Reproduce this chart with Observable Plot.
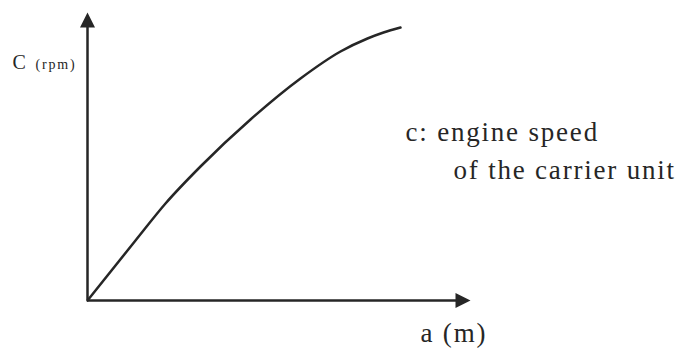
<!DOCTYPE html>
<html>
<head>
<meta charset="utf-8">
<script src="https://cdn.jsdelivr.net/npm/d3@7"></script>
<script src="https://cdn.jsdelivr.net/npm/@observablehq/plot@0.6"></script>
<style>
  html, body { margin: 0; padding: 0; background: #fff; }
  svg text { font-family: "Liberation Serif", "DejaVu Serif", serif !important; }
</style>
</head>
<body>
<div id="chart"></div>
<script>
// Curve (a: distance, c: engine speed), in arbitrary units
const aValues = [0, 48, 78, 113, 163, 213, 253, 280, 296, 313];
const cValues = [0, 60, 97, 134, 181, 222, 249, 262, 268, 273];
const axisMax = { a: 383, c: 288 };
const yLabel = ["C", "(rpm)"];
const xLabel = "a (m)";
const noteLines = ["c: engine speed", "of the carrier unit"];

const curve = aValues.map((a, i) => ({ a, c: cValues[i] }));
const ink = "#262626";
const serif = "Liberation Serif";

const arrowHead = {
  draw(context) {
    context.moveTo(0, 0);
    context.lineTo(7.5, 15);
    context.lineTo(-7.5, 15);
    context.closePath();
  }
};

const textOpts = { frameAnchor: "top-left", textAnchor: "start", lineAnchor: "bottom", fill: ink, fontFamily: serif };

const plot = Plot.plot({
  width: 698,
  height: 349,
  marginLeft: 87,
  marginRight: 228,
  marginTop: 12,
  marginBottom: 49,
  x: { domain: [0, axisMax.a], axis: null },
  y: { domain: [0, axisMax.c], axis: null },
  style: { background: "#fff", color: ink },
  marks: [
    Plot.ruleX([0], { y1: 0, y2: axisMax.c * 0.96, stroke: ink, strokeWidth: 2.5 }),
    Plot.ruleY([0], { x1: 0, x2: axisMax.a * 0.97, stroke: ink, strokeWidth: 2.5 }),
    Plot.dot([{ a: 0, c: axisMax.c }], { x: "a", y: "c", symbol: arrowHead, fill: ink, stroke: "none" }),
    Plot.dot([{ a: axisMax.a, c: 0 }], { x: "a", y: "c", symbol: arrowHead, fill: ink, stroke: "none", rotate: 90 }),
    Plot.line(curve, { x: "a", y: "c", curve: "monotone-x", stroke: ink, strokeWidth: 2.5 }),
    Plot.text([yLabel[0]], { ...textOpts, dx: -75, dy: 56, fontSize: 20 }),
    Plot.text([yLabel[1]], { ...textOpts, dx: -52, dy: 56, fontSize: 14 }),
    Plot.text([noteLines[0]], { ...textOpts, dx: 318, dy: 128, fontSize: 27 }),
    Plot.text([noteLines[1]], { ...textOpts, dx: 366, dy: 166, fontSize: 27 }),
    Plot.text([xLabel], { ...textOpts, dx: 333, dy: 329, fontSize: 27 })
  ]
});
d3.select(plot).selectAll("text").style("letter-spacing", "1.8px").style("font-family", "'Liberation Serif', 'DejaVu Serif', serif");
document.getElementById("chart").appendChild(plot);
</script>
</body>
</html>
